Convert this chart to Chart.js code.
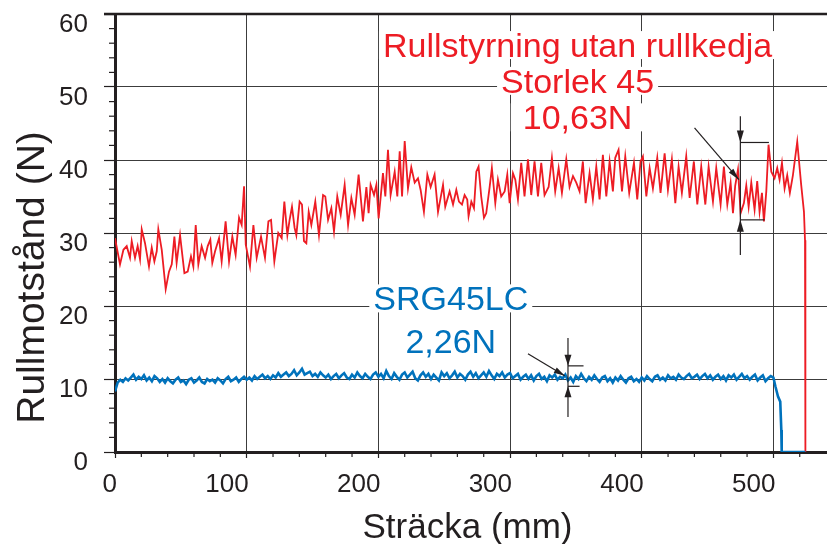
<!DOCTYPE html>
<html><head><meta charset="utf-8">
<script src="https://cdn.jsdelivr.net/npm/chart.js@4"></script>
<style>html,body{margin:0;padding:0;background:#fff;}#wrap{width:827px;height:544px;}</style>
</head><body><div id="wrap"><canvas id="c" width="827" height="544"></canvas></div>
<script>
// ---- data ----
const redX = [0,3.8,6.4,8.9,11.4,12.7,15.2,17.2,19.0,20.3,22.8,25.8,27.9,29.9,31.7,32.9,35.5,38.5,41.0,43.1,45.1,46.8,49.4,52.7,55.2,57.7,59.5,61.3,63.3,65.8,68.4,70.4,72.4,73.9,76.0,79.0,81.0,84.0,86.6,89.1,91.6,94.2,96.2,98.0,99.3,102.5,105.1,107.6,110.9,113.9,116.5,118.5,121.0,124.0,126.6,128.6,
130.9,132.6,134.4,136.4,137.7,140.2,142.0,143.5,145.3,147.1,149.1,152.1,154.9,158.0,159.7,161.8,164.3,166.3,168.8,171.4,174.4,177.0,179.5,182.0,185.0,188.3,190.9,192.6,194.1,196.7,198.5,200.2,203.5,205.3,207.3,209.3,212.4,214.4,216.2,218.0,220.0,222.5,225.0,227.6,230.1,232.1,234.6,237.2,239.7,242.7,245.3,249.1,250.8,254.1,256.7,259.2,261.2,
263.5,265.5,267.5,268.5,270.6,272.6,274.4,276.1,278.1,280.2,281.9,284.5,286.2,288.8,290.8,293.3,295.9,297.9,299.7,302.2,304.0,306.0,308.5,311.0,313.6,316.1,318.6,321.2,323.7,326.2,329.3,331.8,334.3,336.9,339.4,342.7,345.2,347.8,350.3,352.8,355.3,357.4,360.4,362.9,365.5,368.0,370.5,373.1,375.6,378.1,379.9,382.4,385.0,387.5,
390.5,394.1,396.6,399.1,400.9,403.5,406.0,408.5,411.8,414.3,417.4,419.9,422.9,425.5,428.0,430.5,433.8,436.4,439.6,442.2,445.2,448.3,450.8,454.1,456.6,459.9,462.4,465.0,467.5,469.3,471.0,473.1,475.1,477.6,479.4,481.2,483.2,485.7,487.7,489.5,491.3,492.8,494.6,496.3,498.4,500.9,502.9,504.7,506.5,508.5,510.5,512.5,514.8,518.1,521.1,523.2,524.0,524.3];
const redY = [29.3,25.7,27.7,28.2,26.6,28.9,26.6,28.2,26.4,30.5,28.6,25.4,28.0,26.1,27.5,30.5,27.7,22.3,24.7,25.7,29.5,25.9,29.7,24.5,24.7,26.8,25.4,31.1,25.7,28.2,26.6,28.2,29.1,25.9,27.5,29.3,26.1,31.6,26.1,29.5,27.0,32.1,31.1,36.4,28.4,25.4,31.1,26.6,29.5,26.6,31.6,31.8,26.1,30.0,29.3,34.3,
29.7,31.8,33.6,30.7,29.7,34.3,33.9,28.9,28.6,32.9,31.1,34.3,29.7,35.2,35.0,31.8,33.4,30.2,35.0,32.5,36.6,31.1,34.8,32.5,38.0,31.6,36.3,32.7,36.6,35.2,36.6,32.0,38.2,35.0,41.4,35.2,38.4,35.0,41.2,35.0,42.6,36.1,39.0,36.9,37.5,35.9,32.9,38.0,36.3,38.0,32.9,36.6,33.6,35.7,33.9,35.9,34.3,
33.9,35.2,34.6,32.3,34.3,33.4,38.4,39.1,35.0,32.1,32.7,36.3,38.9,34.1,37.3,35.0,35.7,38.0,34.1,38.2,37.3,34.6,39.6,35.0,40.1,35.2,39.8,35.0,39.6,35.2,36.3,40.3,35.7,38.9,35.5,40.1,36.3,37.8,36.9,35.7,39.8,34.1,38.2,34.6,39.1,34.6,40.7,35.0,39.8,35.7,40.3,41.4,35.7,40.5,
35.5,39.6,34.6,39.8,40.5,35.0,38.9,36.1,40.3,35.5,40.9,35.9,40.1,34.1,39.1,35.5,40.5,34.8,39.8,33.9,39.1,33.9,39.1,34.3,38.9,33.9,39.1,33.9,36.9,32.7,36.5,38.7,32.7,34.1,36.5,33.6,36.9,33.2,37.1,32.9,35.5,31.6,35.7,42.1,38.4,37.5,38.9,37.3,39.6,36.1,37.9,35.5,37.9,42.5,36.6,32.9,29.0,0];

const blueX = [0,2,4,6,8,10,12,14,16,18,20,22,24,26,28,30,32,34,36,38,40,42,44,46,48,50,52,54,56,58,60,62,64,66,68,70,72,74,76,78,80,82,84,86,88,90,92,94,96,98,
100,102,104,106,108,110,112,114,116,118,120,122,124,126,128,130,132,134,136,138,140,142,144,146,148,150,152,154,156,158,160,162,164,166,168,170,172,174,176,178,180,182,184,186,188,190,192,194,196,198,
200,202,204,206,208,210,212,214,216,218,220,222,224,226,228,230,232,234,236,238,240,242,244,246,248,250,252,254,256,258,260,262,264,266,268,270,272,274,276,278,280,282,284,286,288,290,292,294,296,298,
300,302,304,306,308,310,312,314,316,318,320,322,324,326,328,330,332,334,336,338,340,342,344,346,348,350,352,354,356,358,360,362,364,366,368,370,372,374,376,378,380,382,384,386,388,390,392,394,396,398,
400,402,404,406,408,410,412,414,416,418,420,422,424,426,428,430,432,434,436,438,440,442,444,446,448,450,452,454,456,458,460,462,464,466,468,470,472,474,476,478,480,482,484,486,488,490,492,494,496,498,
500,501.5,503.5,505.2,506.0,506.3,524.3];
const blueY = [8.3,9.5,9.9,9.6,10.1,9.8,10.2,10.6,9.9,10.3, 10.0,10.5,9.8,10.2,9.7,10.4,10.1,9.6,10.0,9.5,
10.1,9.7,9.4,9.9,10.2,9.6,9.8,9.3,9.9,10.1, 9.5,9.8,10.2,9.6,9.4,10.0,9.7,9.9,9.5,10.1,
9.8,9.4,10.0,10.3,9.7,9.9,10.2,9.6,10.0,10.3, 9.9,10.2,9.8,10.4,10.0,10.3,10.6,10.1,10.4,10.0,
10.5,10.2,10.8,10.3,10.6,10.9,10.4,10.7,11.2,10.5, 10.9,11.4,10.6,10.8,11.0,10.4,10.7,10.3,10.9,10.5,
10.2,10.6,10.0,10.4,10.7,10.1,10.5,10.8,10.2,10.0, 10.6,10.2,10.9,10.4,10.1,10.7,10.3,10.0,10.6,10.9,
10.3,10.7,10.1,11.1,10.4,10.0,10.8,10.3,9.9,10.6, 10.9,10.2,10.6,11.0,10.1,9.8,10.5,10.9,10.3,10.7,
10.0,10.6,10.2,9.8,10.9,10.4,10.8,10.1,10.5,11.0, 10.2,10.7,10.4,9.9,10.6,11.0,10.3,10.8,10.1,10.5,
10.9,10.3,11.1,10.5,10.0,10.7,10.4,10.9,10.2,10.6, 10.8,10.1,10.4,10.7,9.9,10.3,10.6,10.0,10.5,9.8,
10.4,10.7,10.0,10.3,9.7,10.5,10.2,10.6,9.9,10.3, 10.1,10.6,9.8,10.2,9.6,10.4,10.0,10.7,10.1,9.7,
10.3,9.9,10.5,10.0,9.6,10.2,10.4,9.7,10.1,9.5, 10.2,9.8,10.4,9.9,9.5,10.1,10.3,9.7,10.0,9.6,
10.2,9.8,10.4,10.0,9.7,10.3,10.5,9.9,10.2,9.8, 10.5,10.1,10.3,9.9,10.6,10.2,10.0,10.4,10.7,10.1,
10.3,10.6,10.0,10.4,10.7,10.1,10.5,9.9,10.3,10.6, 10.0,10.4,9.8,10.5,10.2,10.6,9.9,10.3,10.7,10.1,
10.4,9.9,10.3,10.6,9.8,10.2,10.5,9.7,10.1,10.4,
10.2,9.0,7.6,6.9,3.0,0,0];

const xTickValues = [0,100,200,300,400,500];
const yTickValues = [0,10,20,30,40,50,60];
const redLines = ['Rullstyrning utan rullkedja','Storlek 45','10,63N'];
const blueLines = ['SRG45LC','2,26N'];
const xTitle = 'Sträcka (mm)';
const yTitle = 'Rullmotstånd (N)';

const RED = '#ed1c24', BLUE = '#0072bc', INK = '#231f20', GRID = '#3c3c3c';
const FONT = '"Liberation Sans", Arial, Helvetica, sans-serif';

function pts(xs, ys){ return xs.map((v,i)=>({x:v,y:ys[i]})); }

function arrowHead(ctx, tx, ty, fx, fy, len, w){
  const a = Math.atan2(ty-fy, tx-fx);
  ctx.beginPath();
  ctx.moveTo(tx, ty);
  ctx.lineTo(tx - len*Math.cos(a) + w/2*Math.sin(a), ty - len*Math.sin(a) - w/2*Math.cos(a));
  ctx.lineTo(tx - len*Math.cos(a) - w/2*Math.sin(a), ty - len*Math.sin(a) + w/2*Math.cos(a));
  ctx.closePath(); ctx.fill();
}
function line(ctx,x1,y1,x2,y2){ ctx.beginPath(); ctx.moveTo(x1,y1); ctx.lineTo(x2,y2); ctx.stroke(); }

const labelsPlugin = {
  id:'labels',
  beforeDatasetsDraw(chart){
    const {ctx, scales:{x,y}} = chart;
    ctx.save();
    ctx.font = '34px ' + FONT;
    ctx.textAlign = 'center'; ctx.textBaseline = 'alphabetic';
    const lab = (t, cxv, byv, col, pad)=>{
      const cx = x.getPixelForValue(cxv), by = y.getPixelForValue(byv);
      const w = ctx.measureText(t).width;
      ctx.fillStyle = '#fff';
      ctx.fillRect(cx - w/2 - pad, by - 26, w + 2*pad, 28);
      ctx.fillStyle = col; ctx.fillText(t, cx, by);
    };
    lab(redLines[0], 351.3, 54.1, RED, 4);
    lab(redLines[1], 351.3, 49.2, RED, 4);
    lab(redLines[2], 351.3, 44.2, RED, 12);
    lab(blueLines[0], 255.0, 19.4, BLUE, 4);
    lab(blueLines[1], 255.0, 13.6, BLUE, 12);
    ctx.restore();
  },
  afterDraw(chart){
    const {ctx, chartArea:ca, scales:{x,y}} = chart;
    ctx.save();
    ctx.strokeStyle = INK; ctx.lineWidth = 2.5;
    line(ctx, ca.left-11, ca.top, ca.right, ca.top);
    ctx.lineWidth = 1.2;
    for (let v=2; v<60; v+=2){ if (v%10===0) continue; const py=y.getPixelForValue(v); line(ctx, ca.left-6, py, ca.left, py); }
    for (let v=20; v<540; v+=20){ if (v%100===0) continue; const px=x.getPixelForValue(v); line(ctx, px, ca.bottom, px, ca.bottom+5); }
    const P = (a,b)=>[x.getPixelForValue(a), y.getPixelForValue(b)];
    ctx.strokeStyle = INK; ctx.fillStyle = INK; ctx.lineWidth = 1.2;
    let [vx, t1] = P(474.9, 46.0); let [,b1] = P(474.9, 27.0);
    let [,top1] = P(0,42.4), [,bot1] = P(0,31.8);
    line(ctx, vx, t1, vx, b1);
    line(ctx, vx, top1, x.getPixelForValue(496.6), top1);
    line(ctx, vx, bot1, x.getPixelForValue(493.3), bot1);
    arrowHead(ctx, vx, top1, vx, t1, 12, 7);
    arrowHead(ctx, vx, bot1, vx, b1, 12, 7);
    let [d1x,d1y] = P(440.1,44.4), [d2x,d2y] = P(473.8,37.3);
    line(ctx, d1x,d1y,d2x,d2y); arrowHead(ctx, d2x,d2y,d1x,d1y,12,6);
    let [vx2, t2] = P(344.0, 15.6); let [,b2] = P(344, 4.8);
    let [,top2] = P(0,11.8), [,bot2] = P(0,9.0);
    line(ctx, vx2, t2, vx2, b2);
    line(ctx, vx2, top2, x.getPixelForValue(355.8), top2);
    line(ctx, vx2, bot2, x.getPixelForValue(352.8), bot2);
    arrowHead(ctx, vx2, top2, vx2, t2, 11, 7);
    arrowHead(ctx, vx2, bot2, vx2, b2, 11, 7);
    let [e1x,e1y] = P(313.6,13.47), [e2x,e2y] = P(341.5,10.45);
    line(ctx, e1x,e1y,e2x,e2y); arrowHead(ctx, e2x,e2y,e1x,e1y,11,6);
    ctx.fillStyle = INK; ctx.textAlign='center'; ctx.textBaseline='alphabetic';
    ctx.font = '35px ' + FONT;
    ctx.fillText(xTitle, 467.5, 538);
    ctx.font = '39px ' + FONT;
    ctx.translate(44, 277.5); ctx.rotate(-Math.PI/2);
    ctx.fillText(yTitle, 0, 0);
    ctx.restore();
  }
};

new Chart(document.getElementById('c'), {
  type:'line',
  data:{ datasets:[
    {data: pts(blueX, blueY), borderColor: BLUE, borderWidth: 2.6, pointRadius:0, tension:0},
    {data: pts(redX, redY), borderColor: RED, borderWidth: 1.8, pointRadius:0, tension:0}
  ]},
  options:{
    responsive:false, animation:false, devicePixelRatio:1,
    layout:{autoPadding:false, padding:{top:14, right:0, left:0, bottom:0}},
    plugins:{legend:{display:false}, tooltip:{enabled:false}},
    scales:{
      x:{type:'linear', min:0, max:540.7,
         afterFit(s){ s.height = 92; s.paddingLeft = 0; s.paddingRight = 0; s.paddingTop = 0; s.paddingBottom = 0; },
         afterBuildTicks(s){ s.ticks = xTickValues.map(v=>({value:v})); },
         ticks:{font:{family:FONT, size:26}, color:INK, align:'end', labelOffset:2, padding:11, includeBounds:false},
         grid:{color:GRID, lineWidth:1, tickLength:6, tickColor:INK, tickWidth:1.2},
         border:{color:INK, width:3}},
      y:{type:'linear', min:0, max:60,
         afterFit(s){ s.width = 115; s.paddingTop = 0; s.paddingBottom = 0; s.paddingLeft = 0; s.paddingRight = 0; },
         afterBuildTicks(s){ s.ticks = yTickValues.map(v=>({value:v})); },
         ticks:{font:{family:FONT, size:26}, color:INK, labelOffset:11, padding:16},
         grid:{color:GRID, lineWidth:1, tickLength:11, tickColor:INK, tickWidth:1.2},
         border:{color:INK, width:3}}
    }
  },
  plugins:[labelsPlugin]
});
</script></body></html>
